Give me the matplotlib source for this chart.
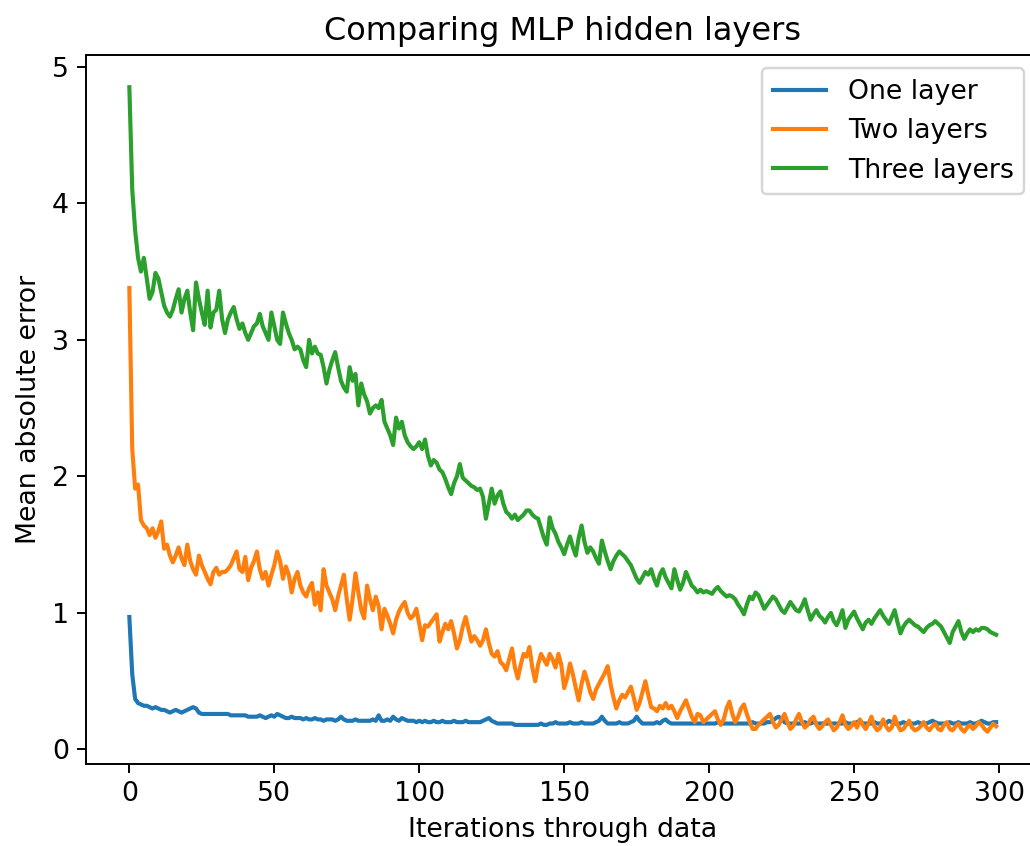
import matplotlib
matplotlib.use("Agg")
import matplotlib.pyplot as plt

labels = ["One layer", "Two layers", "Three layers"]

one_layer = [
    0.97,0.55,0.37,0.34,0.33,0.32,0.32,0.31,0.30,0.31,
    0.30,0.29,0.29,0.28,0.27,0.28,0.29,0.28,0.27,0.28,
    0.29,0.30,0.31,0.30,0.27,0.26,0.26,0.26,0.26,0.26,
    0.26,0.26,0.26,0.26,0.26,0.25,0.25,0.25,0.25,0.25,
    0.25,0.24,0.24,0.24,0.24,0.25,0.24,0.23,0.24,0.25,
    0.24,0.26,0.25,0.24,0.23,0.23,0.24,0.23,0.23,0.23,
    0.22,0.23,0.22,0.22,0.23,0.22,0.22,0.21,0.22,0.22,
    0.22,0.21,0.22,0.24,0.22,0.21,0.21,0.21,0.22,0.21,
    0.21,0.21,0.21,0.21,0.22,0.21,0.25,0.21,0.21,0.22,
    0.21,0.24,0.22,0.21,0.23,0.22,0.21,0.21,0.21,0.20,
    0.21,0.20,0.21,0.20,0.20,0.21,0.20,0.20,0.21,0.20,
    0.20,0.20,0.21,0.20,0.20,0.20,0.21,0.20,0.20,0.20,
    0.20,0.20,0.21,0.22,0.23,0.21,0.20,0.19,0.19,0.19,
    0.19,0.19,0.19,0.18,0.18,0.18,0.18,0.18,0.18,0.18,
    0.18,0.18,0.19,0.18,0.18,0.19,0.19,0.20,0.19,0.19,
    0.19,0.19,0.20,0.19,0.19,0.19,0.20,0.19,0.19,0.19,
    0.19,0.20,0.21,0.24,0.21,0.19,0.19,0.19,0.19,0.20,
    0.19,0.19,0.19,0.20,0.21,0.24,0.21,0.19,0.19,0.19,
    0.19,0.19,0.20,0.19,0.21,0.22,0.20,0.19,0.19,0.19,
    0.19,0.19,0.19,0.19,0.19,0.19,0.19,0.19,0.19,0.19,
    0.19,0.19,0.19,0.20,0.19,0.19,0.19,0.19,0.19,0.19,
    0.19,0.19,0.19,0.19,0.19,0.20,0.19,0.19,0.19,0.19,
    0.20,0.20,0.21,0.23,0.24,0.22,0.20,0.19,0.19,0.19,
    0.19,0.19,0.19,0.20,0.19,0.19,0.20,0.19,0.19,0.19,
    0.19,0.19,0.19,0.19,0.19,0.19,0.19,0.20,0.19,0.19,
    0.19,0.20,0.21,0.19,0.19,0.19,0.19,0.20,0.19,0.19,
    0.19,0.19,0.21,0.20,0.19,0.19,0.19,0.20,0.19,0.19,
    0.19,0.19,0.20,0.19,0.19,0.19,0.20,0.21,0.20,0.19,
    0.19,0.19,0.19,0.20,0.19,0.19,0.20,0.19,0.19,0.19,
    0.20,0.19,0.19,0.20,0.21,0.20,0.19,0.19,0.20,0.20,
]

two_layers = [
    3.38,2.20,1.91,1.94,1.68,1.64,1.62,1.57,1.62,1.55,
    1.60,1.67,1.47,1.50,1.42,1.37,1.42,1.48,1.40,1.35,
    1.50,1.38,1.32,1.28,1.42,1.35,1.30,1.25,1.21,1.30,
    1.33,1.28,1.30,1.30,1.32,1.35,1.40,1.45,1.32,1.30,
    1.41,1.24,1.33,1.38,1.45,1.32,1.25,1.30,1.20,1.28,
    1.35,1.45,1.38,1.25,1.34,1.28,1.15,1.25,1.30,1.20,
    1.15,1.12,1.18,1.22,1.06,1.15,1.02,1.32,1.20,1.15,
    1.10,1.02,1.12,1.20,1.28,1.10,0.95,1.10,1.29,1.15,
    1.02,0.96,1.20,1.10,1.02,1.12,1.05,0.88,1.03,0.98,
    0.92,0.85,0.95,1.01,1.05,1.08,1.00,0.96,0.98,1.03,
    0.92,0.80,0.91,0.90,0.93,0.96,0.99,0.79,0.86,0.92,
    0.88,0.94,0.85,0.74,0.80,0.90,0.97,0.88,0.79,0.83,
    0.80,0.76,0.80,0.88,0.78,0.70,0.68,0.72,0.64,0.62,
    0.58,0.66,0.74,0.60,0.52,0.62,0.70,0.68,0.75,0.60,
    0.50,0.62,0.70,0.66,0.62,0.70,0.66,0.60,0.70,0.62,
    0.45,0.52,0.63,0.55,0.45,0.36,0.48,0.57,0.50,0.42,
    0.37,0.44,0.48,0.52,0.56,0.61,0.48,0.38,0.30,0.36,
    0.40,0.38,0.42,0.46,0.38,0.29,0.34,0.42,0.50,0.40,
    0.31,0.30,0.28,0.32,0.30,0.34,0.30,0.32,0.28,0.23,
    0.28,0.32,0.36,0.30,0.24,0.20,0.26,0.25,0.20,0.22,
    0.24,0.26,0.28,0.22,0.18,0.22,0.30,0.35,0.26,0.20,
    0.24,0.30,0.33,0.26,0.20,0.15,0.15,0.18,0.20,0.22,
    0.24,0.26,0.20,0.16,0.18,0.22,0.26,0.20,0.15,0.17,
    0.22,0.26,0.20,0.16,0.18,0.22,0.24,0.18,0.15,0.17,
    0.20,0.22,0.18,0.14,0.16,0.20,0.25,0.18,0.15,0.17,
    0.20,0.16,0.22,0.18,0.15,0.19,0.24,0.17,0.14,0.16,
    0.22,0.17,0.14,0.16,0.24,0.18,0.14,0.15,0.18,0.21,
    0.16,0.14,0.15,0.17,0.20,0.16,0.14,0.17,0.19,0.15,
    0.14,0.18,0.20,0.15,0.14,0.17,0.19,0.15,0.13,0.16,
    0.18,0.15,0.17,0.20,0.18,0.15,0.13,0.16,0.19,0.17,
]

three_layers = [
    4.85,4.10,3.80,3.60,3.50,3.60,3.45,3.30,3.35,3.49,
    3.45,3.35,3.25,3.20,3.17,3.22,3.30,3.37,3.20,3.30,
    3.36,3.20,3.07,3.42,3.30,3.20,3.11,3.36,3.09,3.20,
    3.22,3.36,3.15,3.05,3.15,3.20,3.24,3.15,3.08,3.12,
    3.05,3.00,3.05,3.10,3.12,3.19,3.10,3.05,3.00,3.20,
    3.10,3.00,2.97,3.20,3.12,3.05,3.00,2.93,2.95,2.93,
    2.85,2.80,3.00,2.90,2.95,2.90,2.89,2.80,2.68,2.78,
    2.85,2.91,2.80,2.70,2.65,2.62,2.80,2.70,2.75,2.52,
    2.68,2.60,2.55,2.46,2.50,2.52,2.50,2.56,2.40,2.35,
    2.30,2.23,2.43,2.35,2.40,2.30,2.25,2.22,2.20,2.22,
    2.25,2.20,2.27,2.15,2.08,2.12,2.10,2.05,2.03,1.98,
    1.92,1.87,1.95,2.00,2.09,1.99,1.97,1.95,1.93,1.92,
    1.90,1.91,1.85,1.69,1.80,1.91,1.80,1.86,1.89,1.80,
    1.74,1.72,1.69,1.72,1.68,1.70,1.72,1.75,1.75,1.72,
    1.70,1.69,1.62,1.55,1.50,1.70,1.62,1.58,1.52,1.48,
    1.43,1.50,1.56,1.48,1.42,1.55,1.64,1.52,1.44,1.48,
    1.45,1.40,1.36,1.53,1.45,1.38,1.32,1.38,1.42,1.45,
    1.43,1.41,1.38,1.35,1.30,1.25,1.22,1.26,1.30,1.28,
    1.32,1.25,1.20,1.28,1.32,1.26,1.22,1.18,1.32,1.24,
    1.17,1.22,1.30,1.25,1.20,1.18,1.15,1.17,1.15,1.16,
    1.15,1.14,1.17,1.19,1.16,1.14,1.12,1.13,1.12,1.10,
    1.06,1.03,0.99,1.06,1.12,1.10,1.15,1.13,1.08,1.03,
    1.06,1.09,1.12,1.10,1.06,1.02,1.00,1.04,1.08,1.05,
    1.02,1.01,1.05,1.10,1.02,0.95,0.99,1.02,0.98,0.96,
    0.93,0.97,1.00,0.94,0.91,0.96,1.02,0.89,0.95,0.98,
    1.01,0.96,0.92,0.88,0.93,0.95,0.92,0.96,0.99,1.02,
    0.98,0.95,0.92,0.97,1.02,0.93,0.85,0.90,0.93,0.95,
    0.93,0.91,0.90,0.88,0.86,0.89,0.91,0.92,0.94,0.92,
    0.90,0.86,0.82,0.78,0.86,0.90,0.94,0.86,0.81,0.85,
    0.88,0.86,0.88,0.87,0.89,0.89,0.88,0.86,0.85,0.84,
]

iterations = list(range(len(one_layer)))

plt.rcParams["font.size"] = 11
fig = plt.figure(figsize=(1030 / 175, 846 / 175), dpi=175)
ax = fig.add_axes([0.0835, 0.097, 0.9257, 0.838])
for series, lab in zip([one_layer, two_layers, three_layers], labels):
    ax.plot(iterations, series, label=lab, linewidth=1.7)

ax.set_title("Comparing MLP hidden layers", fontsize=13.2)
ax.set_xlabel("Iterations through data")
ax.set_ylabel("Mean absolute error")
leg = ax.legend(loc="upper right", bbox_to_anchor=(0.998, 1.0))
fig.savefig("out.png", dpi=175)
